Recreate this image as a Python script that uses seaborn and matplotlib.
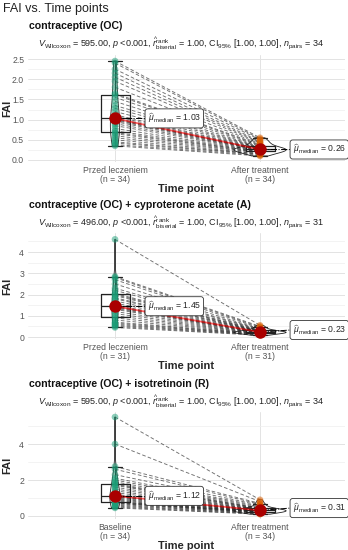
import numpy as np
import pandas as pd
import seaborn as sns
import matplotlib.pyplot as plt
from matplotlib.ticker import MultipleLocator

sns.set_theme(style="white")
plt.rcParams['font.family'] = ['Liberation Sans', 'DejaVu Sans']
plt.rcParams['mathtext.fontset'] = 'custom'
plt.rcParams['mathtext.rm'] = 'Liberation Sans'
plt.rcParams['mathtext.it'] = 'Liberation Sans:italic'
plt.rcParams['mathtext.bf'] = 'Liberation Sans:bold'

# Panel 1: contraceptive (OC)
oc_before = [0.35, 0.38, 0.42, 0.45, 0.50, 0.55, 0.60, 0.65, 0.68, 0.72, 0.78, 0.85,
             0.90, 0.95, 0.98, 1.00, 1.02, 1.04, 1.08, 1.12, 1.20, 1.28, 1.35, 1.45,
             1.55, 1.62, 1.65, 1.80, 1.95, 2.05, 2.15, 2.25, 2.40, 2.45]
oc_after = [0.10, 0.12, 0.14, 0.15, 0.16, 0.18, 0.19, 0.20, 0.21, 0.22, 0.23, 0.24,
            0.25, 0.25, 0.26, 0.26, 0.26, 0.26, 0.27, 0.28, 0.29, 0.30, 0.31, 0.32,
            0.34, 0.36, 0.38, 0.40, 0.42, 0.44, 0.46, 0.50, 0.52, 0.55]

# Panel 2: OC + cyproterone acetate (A)
a_before = [0.45, 0.50, 0.55, 0.60, 0.65, 0.70, 0.80, 0.90, 1.00, 1.10, 1.20, 1.30,
            1.35, 1.40, 1.43, 1.45, 1.50, 1.60, 1.70, 1.80, 1.85, 1.95, 2.00, 2.05,
            2.20, 2.30, 2.50, 2.70, 2.80, 2.85, 4.60]
a_after = [0.08, 0.10, 0.12, 0.13, 0.15, 0.16, 0.17, 0.18, 0.19, 0.20, 0.21, 0.21,
           0.22, 0.22, 0.23, 0.23, 0.24, 0.24, 0.25, 0.26, 0.27, 0.28, 0.30, 0.32,
           0.34, 0.36, 0.38, 0.42, 0.46, 0.50, 0.55]

# Panel 3: OC + isotretinoin (R)
r_before = [0.45, 0.50, 0.55, 0.60, 0.65, 0.70, 0.72, 0.75, 0.78, 0.80, 0.85, 0.90,
            0.95, 1.00, 1.05, 1.08, 1.10, 1.14, 1.20, 1.30, 1.40, 1.50, 1.60, 1.70,
            1.75, 1.80, 1.90, 2.00, 2.10, 2.30, 2.60, 2.75, 4.00, 5.50]
r_after = [0.10, 0.12, 0.15, 0.17, 0.19, 0.20, 0.22, 0.23, 0.24, 0.25, 0.26, 0.27,
           0.28, 0.29, 0.30, 0.30, 0.31, 0.31, 0.32, 0.33, 0.34, 0.35, 0.37, 0.39,
           0.41, 0.43, 0.45, 0.50, 0.55, 0.60, 0.65, 0.70, 0.80, 0.90]

titles = ["contraceptive (OC)",
          "contraceptive (OC) + cyproterone acetate (A)",
          "contraceptive (OC) + isotretinoin (R)"]
first_labels = ["Przed leczeniem", "Przed leczeniem", "Baseline"]
v_stats = ["595.00", "496.00", "595.00"]

W, H = 348, 550
fig = plt.figure(figsize=(W / 100, H / 100), dpi=100)
fig.text(3 / W, 1 - 9 / H, "FAI vs. Time points", fontsize=9, va='center', color='#222222')

# panel layout in pixels
layout = [
    dict(top=55, bottom=162, ylim=(-0.05, 2.6), step=0.5, fmt="{:.1f}", title_y=26, sub_y=43, lab2_dy=0.0),
    dict(top=233, bottom=339, ylim=(-0.094, 4.9), step=1, fmt="{:.0f}", title_y=205, sub_y=222, lab2_dy=0.1),
    dict(top=412, bottom=519, ylim=(-0.167, 5.78), step=2, fmt="{:.0f}", title_y=384, sub_y=401, lab2_dy=0.13),
]
data = [(oc_before, oc_after), (a_before, a_after), (r_before, r_after)]
teal, orange = "#1B9E77", "#D95F02"
left, right = 28, 345

for i, ((before, after), lay) in enumerate(zip(data, layout)):
    n = len(before)
    order = [first_labels[i], "After treatment"]
    df = pd.DataFrame({
        "time": [order[0]] * n + [order[1]] * n,
        "FAI": before + after,
        "id": list(range(n)) * 2,
    })
    ax = fig.add_axes([left / W, 1 - lay['bottom'] / H, (right - left) / W,
                       (lay['bottom'] - lay['top']) / H])
    ax.set_facecolor('white')

    # grid
    ax.yaxis.set_major_locator(MultipleLocator(lay['step']))
    ax.yaxis.set_minor_locator(MultipleLocator(lay['step'] / 2))
    ax.grid(which='major', axis='y', color='#E3E3E3', lw=0.7, zorder=0)
    ax.grid(which='minor', axis='y', color='#EFEFEF', lw=0.5, zorder=0)
    for xp in range(2):
        ax.axvline(xp, color='#E3E3E3', lw=0.7, zorder=0)

    # paired lines
    for b, a in zip(before, after):
        ax.plot([0, 1], [b, a], ls=(0, (4, 2.5)), color='#222222', lw=0.65, alpha=0.65, zorder=1)

    sns.violinplot(data=df, x="time", y="FAI", order=order, density_norm="area", width=0.36,
                   cut=0, inner=None, fill=False, color='#222222', linewidth=0.6, ax=ax, zorder=2)
    sns.boxplot(data=df, x="time", y="FAI", order=order, width=0.2, fill=False, color='#222222',
                linewidth=0.9, showfliers=False, ax=ax, zorder=3)
    sns.stripplot(data=df, x="time", y="FAI", order=order, hue="time", hue_order=order,
                  palette=[teal, orange], jitter=False, size=4.8, alpha=0.5, linewidth=0,
                  legend=False, ax=ax, zorder=4)

    med_b, med_a = np.median(before), np.median(after)
    ax.plot([0, 1], [med_b, med_a], color='red', lw=1.3, alpha=0.6, zorder=5)
    ax.scatter([0, 1], [med_b, med_a], s=80, color='#AA0000', zorder=6, linewidths=0)

    # median labels
    for xp, m, dy in [(0, med_b, 0.0), (1, med_a, lay['lab2_dy'])]:
        ax.plot([xp, xp + 0.21], [m, m + dy], ls='-.', color='black', lw=0.7, zorder=5)
        ax.text(xp + 0.225, m + dy, r"$\widehat{\mu}_{\mathrm{median}}$ = " + f"{m:.2f}",
                fontsize=6.2, va='center', ha='left', zorder=7,
                bbox=dict(boxstyle='round,pad=0.3,rounding_size=0.3', fc='white', ec='#333333', lw=0.6))

    ax.set_xlim(-0.6, 1.586)
    ax.set_ylim(*lay['ylim'])
    ticks = np.arange(0, lay['ylim'][1], lay['step'])
    ax.set_yticks(ticks)
    ax.set_yticklabels([lay['fmt'].format(t) for t in ticks])
    ax.set_xticks([0, 1])
    ax.set_xticklabels([f"{order[0]}\n(n = {n})", f"After treatment\n(n = {n})"], linespacing=0.95)
    ax.tick_params(axis='both', which='major', length=2, width=0.6, color='#333333',
                   labelsize=6.2, labelcolor='#555555', pad=0.8)
    ax.tick_params(axis='both', which='minor', length=0)
    for s in ax.spines.values():
        s.set_visible(False)
    ax.set_xlabel("Time point", fontsize=8, fontweight='bold', labelpad=0)
    ax.set_ylabel("FAI", fontsize=8, fontweight='bold')
    ax.yaxis.set_label_coords(-16 / (right - left), 0.5)

    fig.text(left / W + 0.002, 1 - lay['title_y'] / H, titles[i], fontsize=7.6,
             fontweight='bold', va='center', color='#111111')
    sub = (r"$V_{\mathrm{Wilcoxon}}$ = " + v_stats[i] + r", $p$ <0.001, "
           r"$\widehat{r}_{\mathrm{biserial}}^{\mathrm{rank}}$ = 1.00, CI$_{95\%}$ [1.00, 1.00], "
           r"$n_{\mathrm{pairs}}$ = " + str(n))
    fig.text(181 / W, 1 - lay['sub_y'] / H, sub, fontsize=6.5, va='center', ha='center', color='#222222')

fig.savefig("out.png", dpi=100)
